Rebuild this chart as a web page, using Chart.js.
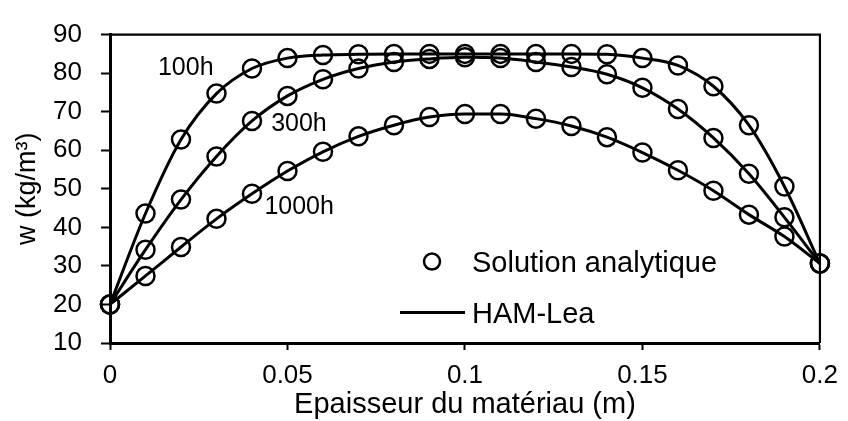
<!DOCTYPE html>
<html>
<head>
<meta charset="utf-8">
<script src="https://cdn.jsdelivr.net/npm/chart.js@4"></script>
<style>
  html, body { margin: 0; padding: 0; background: #fff; }
  #wrap { width: 848px; height: 421px; }
</style>
</head>
<body>
<div id="wrap"><canvas id="c" width="848" height="421"></canvas></div>
<script>
// Moisture content profiles across the wall thickness
const thickness = [0, 0.01, 0.02, 0.03, 0.04, 0.05, 0.06, 0.07, 0.08, 0.09, 0.1,
                   0.11, 0.12, 0.13, 0.14, 0.15, 0.16, 0.17, 0.18, 0.19, 0.2];
const w100h  = [20, 43.6, 62.8, 74.7, 81.2, 83.9, 84.7, 84.9, 85.0, 85.0, 85.0,
                85.0, 85.0, 85.0, 84.9, 83.9, 82.0, 76.6, 66.5, 50.6, 30.6];
const w300h  = [20, 34.2, 47.2, 58.4, 67.6, 74.1, 78.4, 81.2, 82.9, 83.7, 84.1,
                83.9, 82.9, 81.6, 79.7, 76.2, 70.7, 63.2, 53.9, 42.6, 30.6];
const w1000h = [20, 27.4, 34.9, 42.2, 48.7, 54.6, 59.6, 63.6, 66.5, 68.6, 69.4,
                69.4, 68.2, 66.3, 63.4, 59.4, 54.8, 49.5, 43.3, 37.6, 30.6];
const curveNames = ['100h', '300h', '1000h'];
const seriesNames = ['Solution analytique', 'HAM-Lea'];
const xTickValues = [0, 0.05, 0.1, 0.15, 0.2];
const xTickLabels = ['0', '0.05', '0.1', '0.15', '0.2'];
const yTickValues = [10, 20, 30, 40, 50, 60, 70, 80, 90];
const yTickLabels = ['10', '20', '30', '40', '50', '60', '70', '80', '90'];

const FONT = '"Liberation Sans", Arial, sans-serif';
const toPoints = arr => thickness.map((x, i) => ({ x: x, y: arr[i] }));

const circleSet = (arr) => ({
  label: seriesNames[0],
  data: toPoints(arr),
  showLine: false,
  pointStyle: 'circle',
  pointRadius: 9,
  pointBorderWidth: 2.5,
  pointBorderColor: '#000',
  pointBackgroundColor: 'rgba(0,0,0,0)',
  clip: false
});
const lineSet = (arr) => ({
  label: seriesNames[1],
  data: toPoints(arr),
  showLine: true,
  borderColor: '#000',
  borderWidth: 3,
  pointRadius: 0,
  cubicInterpolationMode: 'monotone',
  clip: false
});

// Frame, curve labels and the in-plot legend
const decorations = {
  id: 'decorations',
  beforeDatasetsDraw(chart) {
    const a = chart.chartArea, ctx = chart.ctx;
    ctx.save();
    ctx.strokeStyle = '#000';
    ctx.lineWidth = 2.2;
    ctx.beginPath();
    ctx.moveTo(a.left, a.top);
    ctx.lineTo(a.right, a.top);
    ctx.lineTo(a.right, a.bottom);
    ctx.stroke();
    ctx.restore();
  },
  afterDatasetsDraw(chart, args, opts) {
    const ctx = chart.ctx, xs = chart.scales.x, ys = chart.scales.y, a = chart.chartArea;
    ctx.save();
    ctx.fillStyle = '#000';
    ctx.textAlign = 'left';
    ctx.textBaseline = 'alphabetic';
    ctx.font = opts.curveFontSize + 'px ' + FONT;
    opts.curveLabelAt.forEach((p, i) => {
      ctx.fillText(curveNames[i], xs.getPixelForValue(p[0]), ys.getPixelForValue(p[1]));
    });

    const L = opts.legend;
    ctx.strokeStyle = '#000';
    // circle marker
    ctx.lineWidth = 2.5;
    ctx.beginPath();
    ctx.arc(a.left + L.markerX, a.top + L.row1, L.markerR, 0, Math.PI * 2);
    ctx.stroke();
    // line marker
    ctx.lineWidth = 3;
    ctx.beginPath();
    ctx.moveTo(a.left + L.lineX0, a.top + L.row2);
    ctx.lineTo(a.left + L.lineX1, a.top + L.row2);
    ctx.stroke();
    ctx.font = L.fontSize + 'px ' + FONT;
    ctx.fillText(seriesNames[0], a.left + L.textX, a.top + L.row1 + L.baselineShift);
    ctx.fillText(seriesNames[1], a.left + L.textX, a.top + L.row2 + L.baselineShift);
    ctx.restore();
  }
};

new Chart(document.getElementById('c'), {
  type: 'scatter',
  data: {
    datasets: [
      circleSet(w100h), circleSet(w300h), circleSet(w1000h),
      lineSet(w100h), lineSet(w300h), lineSet(w1000h)
    ]
  },
  plugins: [decorations],
  options: {
    responsive: false,
    animation: false,
    events: [],
    layout: { padding: { top: 25, right: 21, bottom: 0, left: 0 } },
    plugins: {
      legend: { display: false },
      tooltip: { enabled: false },
      decorations: {
        curveFontSize: 25,
        curveLabelAt: [[0.0135, 79.6], [0.0454, 64.9], [0.0435, 43.4]],
        legend: {
          markerX: 322, markerR: 8, lineX0: 290, lineX1: 355,
          textX: 362, row1: 227, row2: 278, baselineShift: 10, fontSize: 29
        }
      }
    },
    scales: {
      x: {
        type: 'linear',
        min: 0, max: 0.2,
        afterBuildTicks: s => { s.ticks = xTickValues.map(v => ({ value: v })); },
        afterFit: s => { s.height = 78; },
        ticks: {
          callback: (v, i) => xTickLabels[i],
          color: '#000', font: { family: FONT, size: 26 },
          padding: 10, maxRotation: 0, autoSkip: false
        },
        grid: { display: true, drawOnChartArea: false, drawTicks: true,
                tickLength: 7, tickWidth: 2, tickColor: '#000' },
        border: { display: true, color: '#000', width: 3 },
        title: {
          display: true, text: 'Epaisseur du matériau (m)', color: '#000',
          font: { family: FONT, size: 29, lineHeight: 1 },
          padding: { top: 0, bottom: 1.5 }
        }
      },
      y: {
        type: 'linear',
        min: 10, max: 90,
        afterBuildTicks: s => { s.ticks = yTickValues.map(v => ({ value: v })); },
        afterFit: s => { s.width = 110; },
        ticks: {
          callback: (v, i) => yTickLabels[i],
          color: '#000', font: { family: FONT, size: 26 },
          padding: 19, autoSkip: false
        },
        grid: { display: true, drawOnChartArea: false, drawTicks: true,
                tickLength: 9, tickWidth: 2, tickColor: '#000' },
        border: { display: true, color: '#000', width: 3 },
        title: {
          display: true, text: 'w (kg/m³)', color: '#000',
          font: { family: FONT, size: 27, lineHeight: 1 },
          padding: { top: 14, bottom: 0 }
        }
      }
    }
  }
});
</script>
</body>
</html>
